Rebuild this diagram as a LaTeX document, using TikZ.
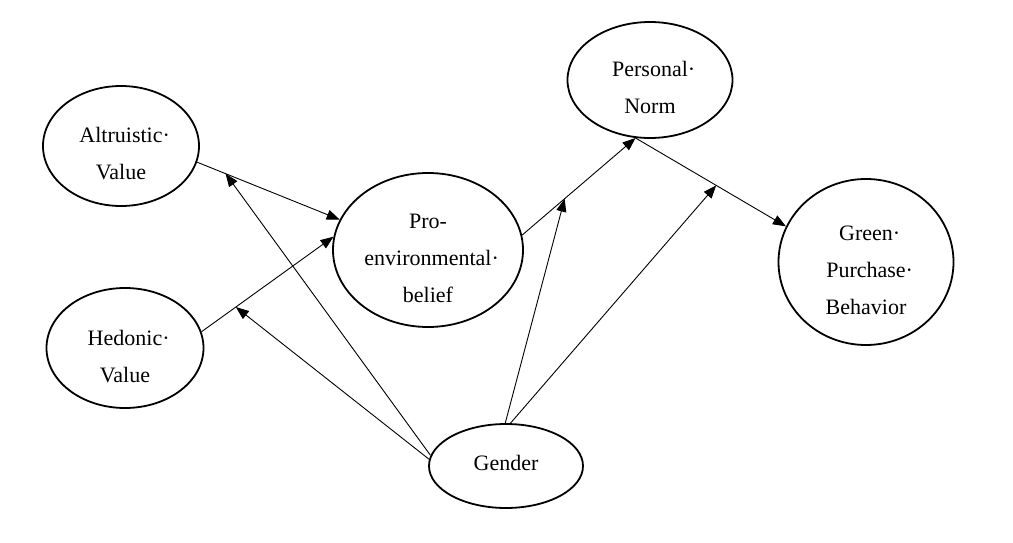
\documentclass[tikz,border=0pt]{standalone}
\usepackage{fontspec}
\setmainfont{Liberation Serif}
\usetikzlibrary{arrows.meta,shapes.geometric}
\begin{document}
\begin{tikzpicture}[x=1pt,y=-1pt,
  ell/.style={draw,ellipse,line width=1.8pt,inner sep=0pt},
  txt/.style={font=\fontsize{22}{37}\selectfont,align=center,inner sep=0pt},
  arr/.style={line width=0.9pt,-{Triangle[length=13pt,width=10pt]}}]
\useasboundingbox[fill=white] (0,0) rectangle (1013,543);
% ellipses
\node[ell,minimum width=156pt,minimum height=120pt] (alt) at (121,146) {};
\node[ell,minimum width=157pt,minimum height=120pt] (hed) at (125,348) {};
\node[ell,minimum width=190pt,minimum height=154pt] (pro) at (428,250) {};
\node[ell,minimum width=165pt,minimum height=116pt] (pn) at (650,80) {};
\node[ell,minimum width=175pt,minimum height=166pt] (gpb) at (866,262) {};
\node[ell,minimum width=154pt,minimum height=84pt] (gen) at (506,466) {};
% texts
\node[txt] (altt) at (121,153.5) {Altruistic\rlap{·}\\Value};
\node[txt] (hedt) at (125,356.5) {Hedonic\rlap{·}\\Value};
\node[txt] (prot) at (428,258.5) {Pro-\\environmental\rlap{·}\\belief};
\node[txt] (pnt) at (650,87.5) {Personal\rlap{·}\\Norm};
\node[txt] (gpbt) at (866,270) {Green\rlap{·}\\Purchase\rlap{·}\\Behavior};
\node[txt] (gent) at (506,463) {Gender};
% main paths
\draw[arr] (alt.-12.3) -- coordinate[pos=0.2] (m1) (pro.161.8);
\draw[arr] (hed.12.8) -- coordinate[pos=0.26] (m2) (pro.172.8);
\draw[arr] (pro.9) -- coordinate[pos=0.375] (m3) (pn.-104.5);
\draw[arr] (pn.-104.5) -- coordinate[pos=0.536] (m4) (gpb.156.4);
% moderation paths
\draw[arr] (gen.172) -- (m1);
\draw[arr] (gen.175.6) -- (m2);
\draw[arr] (gen.91.4) -- (m3);
\draw[arr] (gen.84.4) -- (m4);
\end{tikzpicture}
\end{document}
